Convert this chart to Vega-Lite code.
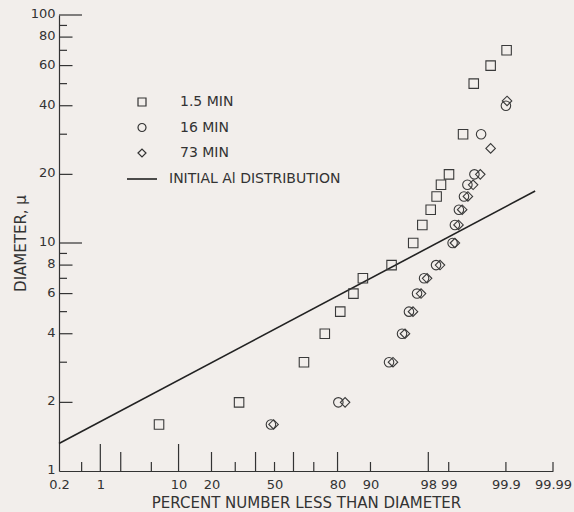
{
  "$schema": "https://vega.github.io/schema/vega-lite/v6.json",
  "width": 494,
  "height": 456,
  "autosize": {"type": "none"},
  "padding": {"left": 59, "top": 15, "right": 21, "bottom": 41},
  "background": "#f2eeeb",
  "config": {
    "view": {"stroke": null},
    "font": "DejaVu Sans"
  },
  "datasets": {
    "points": [
      {"series": "1.5 MIN", "pct": 6.15, "d": 1.6},
      {"series": "1.5 MIN", "pct": 31.8, "d": 2},
      {"series": "1.5 MIN", "pct": 65.3, "d": 3},
      {"series": "1.5 MIN", "pct": 74.9, "d": 4},
      {"series": "1.5 MIN", "pct": 81.0, "d": 5},
      {"series": "1.5 MIN", "pct": 85.4, "d": 6},
      {"series": "1.5 MIN", "pct": 88.1, "d": 7},
      {"series": "1.5 MIN", "pct": 94.1, "d": 8},
      {"series": "1.5 MIN", "pct": 96.8, "d": 10},
      {"series": "1.5 MIN", "pct": 97.58, "d": 12},
      {"series": "1.5 MIN", "pct": 98.15, "d": 14},
      {"series": "1.5 MIN", "pct": 98.48, "d": 16},
      {"series": "1.5 MIN", "pct": 98.69, "d": 18},
      {"series": "1.5 MIN", "pct": 99.01, "d": 20},
      {"series": "1.5 MIN", "pct": 99.41, "d": 30},
      {"series": "1.5 MIN", "pct": 99.61, "d": 50},
      {"series": "1.5 MIN", "pct": 99.805, "d": 60},
      {"series": "1.5 MIN", "pct": 99.903, "d": 70},
      {"series": "16 MIN", "pct": 48.1, "d": 1.6},
      {"series": "16 MIN", "pct": 80.3, "d": 2},
      {"series": "16 MIN", "pct": 93.69, "d": 3},
      {"series": "16 MIN", "pct": 95.57, "d": 4},
      {"series": "16 MIN", "pct": 96.37, "d": 5},
      {"series": "16 MIN", "pct": 97.15, "d": 6},
      {"series": "16 MIN", "pct": 97.71, "d": 7},
      {"series": "16 MIN", "pct": 98.45, "d": 8},
      {"series": "16 MIN", "pct": 99.13, "d": 10},
      {"series": "16 MIN", "pct": 99.20, "d": 12},
      {"series": "16 MIN", "pct": 99.31, "d": 14},
      {"series": "16 MIN", "pct": 99.43, "d": 16},
      {"series": "16 MIN", "pct": 99.50, "d": 18},
      {"series": "16 MIN", "pct": 99.62, "d": 20},
      {"series": "16 MIN", "pct": 99.71, "d": 30},
      {"series": "16 MIN", "pct": 99.90, "d": 40},
      {"series": "73 MIN", "pct": 49.5, "d": 1.6},
      {"series": "73 MIN", "pct": 82.7, "d": 2},
      {"series": "73 MIN", "pct": 94.32, "d": 3},
      {"series": "73 MIN", "pct": 95.93, "d": 4},
      {"series": "73 MIN", "pct": 96.78, "d": 5},
      {"series": "73 MIN", "pct": 97.48, "d": 6},
      {"series": "73 MIN", "pct": 97.92, "d": 7},
      {"series": "73 MIN", "pct": 98.645, "d": 8},
      {"series": "73 MIN", "pct": 99.20, "d": 10},
      {"series": "73 MIN", "pct": 99.30, "d": 12},
      {"series": "73 MIN", "pct": 99.39, "d": 14},
      {"series": "73 MIN", "pct": 99.51, "d": 16},
      {"series": "73 MIN", "pct": 99.60, "d": 18},
      {"series": "73 MIN", "pct": 99.70, "d": 20},
      {"series": "73 MIN", "pct": 99.805, "d": 26},
      {"series": "73 MIN", "pct": 99.905, "d": 42}
    ],
    "initial": [
      {"pct": 0.2, "d": 1.32, "label": "INITIAL Al DISTRIBUTION"},
      {"pct": 99.975, "d": 16.9, "label": "INITIAL Al DISTRIBUTION"}
    ],
    "xticksLong": [
      {"pct": 1, "d": 1},
      {"pct": 10, "d": 1}
    ],
    "xticksMedium": [
      {"pct": 2, "d": 1},
      {"pct": 20, "d": 1},
      {"pct": 40, "d": 1},
      {"pct": 60, "d": 1},
      {"pct": 80, "d": 1},
      {"pct": 98, "d": 1}
    ],
    "xticksShort": [
      {"pct": 0.5, "d": 1},
      {"pct": 5, "d": 1},
      {"pct": 30, "d": 1},
      {"pct": 50, "d": 1},
      {"pct": 70, "d": 1},
      {"pct": 90, "d": 1},
      {"pct": 99, "d": 1},
      {"pct": 99.9, "d": 1},
      {"pct": 99.99, "d": 1}
    ],
    "yticksLong": [
      {"pct": 0.2, "d": 10},
      {"pct": 0.2, "d": 100}
    ],
    "yticksMedium": [
      {"pct": 0.2, "d": 2},
      {"pct": 0.2, "d": 4},
      {"pct": 0.2, "d": 6},
      {"pct": 0.2, "d": 8},
      {"pct": 0.2, "d": 20},
      {"pct": 0.2, "d": 40},
      {"pct": 0.2, "d": 60},
      {"pct": 0.2, "d": 80}
    ],
    "yticksShort": [
      {"pct": 0.2, "d": 3},
      {"pct": 0.2, "d": 5},
      {"pct": 0.2, "d": 7},
      {"pct": 0.2, "d": 9},
      {"pct": 0.2, "d": 30},
      {"pct": 0.2, "d": 50},
      {"pct": 0.2, "d": 70},
      {"pct": 0.2, "d": 90}
    ]
  },
  "encoding": {
    "x": {
      "field": "z",
      "type": "quantitative",
      "scale": {"domain": [-2.87816, 3.71902], "nice": false, "zero": false},
      "axis": {
        "values": [-2.87816, -2.32635, -1.28155, -0.84162, 0, 0.84162, 1.28155, 2.05375, 2.32635, 3.09023, 3.71902],
        "labelExpr": "format(cumulativeNormal(datum.value) * 100, '.4~r')",
        "ticks": false,
        "grid": false,
        "labelFlush": false,
        "labelOverlap": false,
        "labelFontSize": 13,
        "labelColor": "#333333",
        "labelPadding": 7,
        "domainColor": "#333333",
        "domainWidth": 1.2,
        "title": "PERCENT NUMBER LESS THAN DIAMETER",
        "titleFontSize": 15,
        "titleFontWeight": "normal",
        "titleColor": "#333333",
        "titlePadding": 4
      }
    },
    "y": {
      "field": "d",
      "type": "quantitative",
      "scale": {"type": "log", "domain": [1, 100], "nice": false},
      "axis": {
        "values": [1, 2, 4, 6, 8, 10, 20, 40, 60, 80, 100],
        "format": "d",
        "ticks": false,
        "grid": false,
        "labelFlush": false,
        "labelOverlap": false,
        "labelFontSize": 13,
        "labelColor": "#333333",
        "labelPadding": 4,
        "labelOffset": -1.5,
        "domainColor": "#333333",
        "domainWidth": 1.2,
        "title": "DIAMETER, μ",
        "titleFontSize": 15,
        "titleFontWeight": "normal",
        "titleColor": "#333333",
        "titlePadding": 2
      }
    }
  },
  "layer": [
    {
      "data": {"name": "xticksLong"},
      "transform": [{"calculate": "quantileNormal(datum.pct / 100)", "as": "z"}],
      "mark": {"type": "rule", "y2Offset": -27, "strokeWidth": 1.2, "color": "#333333"},
      "encoding": {"y2": {"field": "d"}}
    },
    {
      "data": {"name": "xticksMedium"},
      "transform": [{"calculate": "quantileNormal(datum.pct / 100)", "as": "z"}],
      "mark": {"type": "rule", "y2Offset": -19, "strokeWidth": 1.2, "color": "#333333"},
      "encoding": {"y2": {"field": "d"}}
    },
    {
      "data": {"name": "xticksShort"},
      "transform": [{"calculate": "quantileNormal(datum.pct / 100)", "as": "z"}],
      "mark": {"type": "rule", "y2Offset": -9, "strokeWidth": 1.2, "color": "#333333"},
      "encoding": {"y2": {"field": "d"}}
    },
    {
      "data": {"name": "yticksLong"},
      "transform": [{"calculate": "quantileNormal(datum.pct / 100)", "as": "z"}],
      "mark": {"type": "rule", "x2Offset": 23, "strokeWidth": 1.2, "color": "#333333"},
      "encoding": {"x2": {"field": "z"}}
    },
    {
      "data": {"name": "yticksMedium"},
      "transform": [{"calculate": "quantileNormal(datum.pct / 100)", "as": "z"}],
      "mark": {"type": "rule", "x2Offset": 13.5, "strokeWidth": 1.2, "color": "#333333"},
      "encoding": {"x2": {"field": "z"}}
    },
    {
      "data": {"name": "yticksShort"},
      "transform": [{"calculate": "quantileNormal(datum.pct / 100)", "as": "z"}],
      "mark": {"type": "rule", "x2Offset": 8, "strokeWidth": 1.2, "color": "#333333"},
      "encoding": {"x2": {"field": "z"}}
    },
    {
      "data": {"name": "initial"},
      "transform": [{"calculate": "quantileNormal(datum.pct / 100)", "as": "z"}],
      "mark": {"type": "line", "strokeWidth": 1.6},
      "encoding": {
        "color": {
          "field": "label",
          "type": "nominal",
          "scale": {"range": ["#222222"]},
          "legend": {
            "title": null,
            "orient": "none",
            "legendX": 67,
            "legendY": 148,
            "padding": 0,
            "labelFontSize": 14,
            "labelColor": "#333333",
            "labelLimit": 400,
            "labelOffset": 11,
            "symbolType": "stroke",
            "symbolSize": 900,
            "symbolStrokeWidth": 1.6,
            "symbolStrokeColor": "#222222"
          }
        }
      }
    },
    {
      "data": {"name": "points"},
      "transform": [{"calculate": "quantileNormal(datum.pct / 100)", "as": "z"}],
      "mark": {"type": "point", "filled": false, "size": 90, "strokeWidth": 1.1, "color": "#3a3a3a", "opacity": 1},
      "encoding": {
        "shape": {
          "field": "series",
          "type": "nominal",
          "scale": {
            "domain": ["1.5 MIN", "16 MIN", "73 MIN"],
            "range": ["square", "circle", "diamond"]
          },
          "legend": {
            "title": null,
            "orient": "none",
            "legendX": 76,
            "legendY": 80,
            "padding": 0,
            "labelFontSize": 14,
            "labelColor": "#333333",
            "labelLimit": 400,
            "labelOffset": 31,
            "rowPadding": 11.5,
            "symbolSize": 64,
            "symbolStrokeColor": "#333333",
            "symbolFillColor": "transparent",
            "symbolStrokeWidth": 1.2,
            "symbolOpacity": 1
          }
        }
      }
    }
  ]
}
